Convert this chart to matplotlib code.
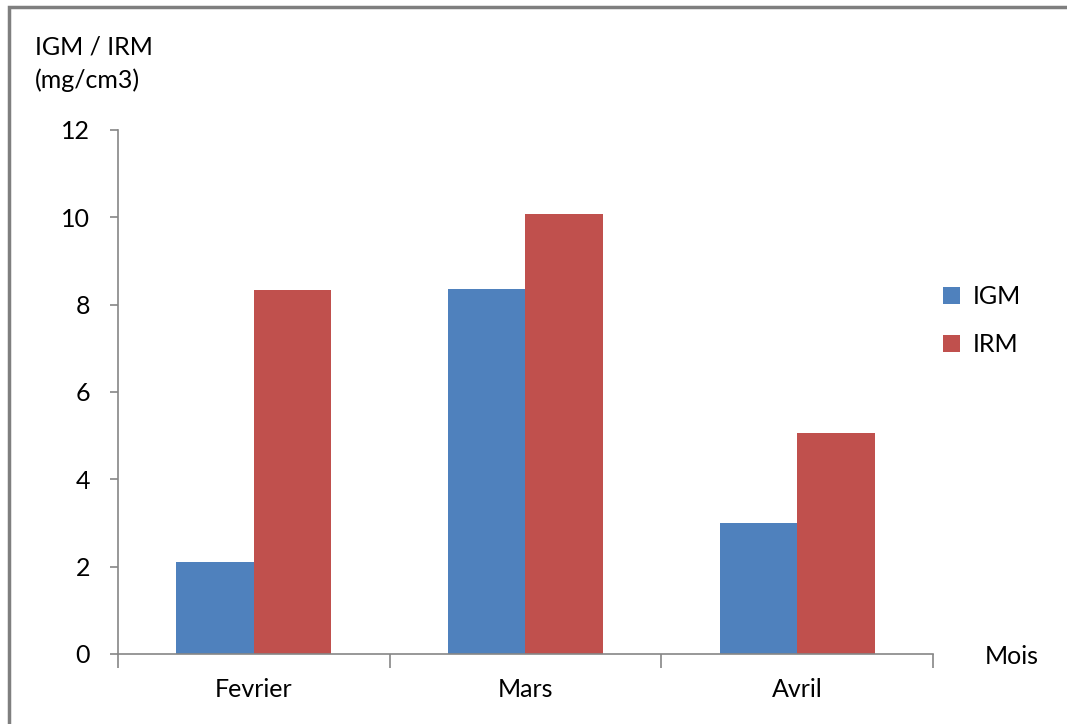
import matplotlib.pyplot as plt
import numpy as np
from matplotlib.patches import Rectangle

plt.rcParams['font.family'] = ['Lato', 'DejaVu Sans']

# data
months = ['Fevrier', 'Mars', 'Avril']
igm = [2.1, 8.35, 3.0]
irm = [8.33, 10.07, 5.05]
y_ticks = [0, 2, 4, 6, 8, 10, 12]

blue = '#4F81BD'
red = '#C0504D'
axis_grey = '#868686'
fs = 18

fig = plt.figure(figsize=(10.67, 7.24), dpi=100)
ax = fig.add_axes([0.1106, 0.0967, 0.7638, 0.7238])

x = np.arange(len(months))
w = 1 / 3.5  # Excel gap width 150%
ax.bar(x - w / 2, igm, width=w, color=blue, label='IGM')
ax.bar(x + w / 2, irm, width=w, color=red, label='IRM')

ax.set_xlim(-0.5, len(months) - 0.5)
ax.set_ylim(0, 12)
ax.set_yticks(y_ticks)
ax.set_yticklabels([str(t) for t in y_ticks], fontsize=fs)
ax.set_xticks(x)
ax.set_xticklabels(months, fontsize=fs)
ax.tick_params(axis='x', length=0, pad=17)
ax.set_xticks(np.arange(len(months) + 1) - 0.5, minor=True)
ax.tick_params(axis='x', which='minor', length=10, color=axis_grey, width=1.2)
ax.tick_params(axis='y', length=6, color=axis_grey, width=1.2, pad=14)

for side in ['top', 'right']:
    ax.spines[side].set_visible(False)
for side in ['left', 'bottom']:
    ax.spines[side].set_color(axis_grey)
    ax.spines[side].set_linewidth(1.2)

fig.text(35 / 1067, 1 - 47 / 724, 'IGM / IRM', fontsize=fs, ha='left', va='center')
fig.text(35 / 1067, 1 - 80 / 724, '(mg/cm3)', fontsize=fs, ha='left', va='center')
fig.text(1012 / 1067, 1 - 657 / 724, 'Mois', fontsize=fs, ha='center', va='center')

ax.legend(loc='center left', bbox_to_anchor=(0.8625, 0.557), bbox_transform=fig.transFigure,
          frameon=False, fontsize=fs, handlelength=0.7, handleheight=0.7,
          handletextpad=0.5, labelspacing=1.0)

fig.patches.append(Rectangle((9 / 1067, -0.1), 1.2, 1 - 7 / 724 + 0.1, transform=fig.transFigure,
                             fill=False, edgecolor='#7f7f7f', linewidth=2.5))

fig.savefig('out.png', dpi=100)
